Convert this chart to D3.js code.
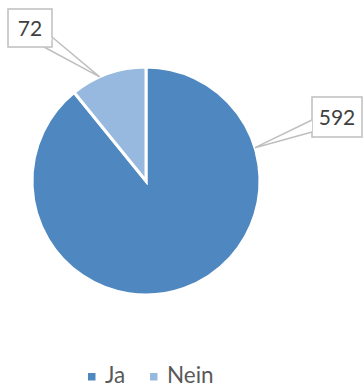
<!DOCTYPE html>
<html>
<head>
<meta charset="utf-8">
<script src="https://cdn.jsdelivr.net/npm/d3@7"></script>
<style>
  html, body { margin: 0; padding: 0; background: #fff; }
  svg { display: block; }
  text { font-family: Lato, "Open Sans", sans-serif; }
</style>
</head>
<body>
<svg id="chart" width="364" height="387"></svg>
<script>
// ---- data ----
const categories = ["Ja", "Nein"];
const values = [592, 72];
const colors = ["#4f87c1", "#97b9df"];

// ---- layout ----
const W = 364, H = 387;
const cx = 146, cy = 181, R = 114;
// callout boxes: [x, y, w, h], leader tip angle (deg, clockwise from top), pointer base points relative to box
const callouts = [
  { box: [312, 97, 50, 40], tipDeg: 73, base: [[0, 23], [0, 35]] },
  { box: [8, 9, 44, 38], tipDeg: 336, base: [[44, 28], [36, 38]] }
];

const svg = d3.select("#chart");

const pie = d3.pie().sort(null).value(d => d)(values);
const arc = d3.arc().innerRadius(0).outerRadius(R);

const g = svg.append("g").attr("transform", `translate(${cx},${cy})`);
g.selectAll("path.slice")
  .data(pie)
  .join("path")
  .attr("class", "slice")
  .attr("d", arc)
  .attr("fill", (d, i) => colors[i])
  .attr("stroke", "#fff")
  .attr("stroke-width", 3)
  .attr("stroke-linejoin", "miter");

// ---- callouts ----
callouts.forEach((c, i) => {
  const [bx, by, bw, bh] = c.box;
  const a = c.tipDeg * Math.PI / 180;
  const tip = [cx + R * Math.sin(a), cy - R * Math.cos(a)];
  const p1 = [bx + c.base[0][0], by + c.base[0][1]];
  const p2 = [bx + c.base[1][0], by + c.base[1][1]];
  svg.append("rect")
    .attr("x", bx).attr("y", by).attr("width", bw).attr("height", bh)
    .attr("fill", "#fff")
    .attr("stroke", "#bfbfbf")
    .attr("stroke-width", 1.5);
  svg.append("path")
    .attr("d", `M${p1[0]},${p1[1]} L${tip[0]},${tip[1]} L${p2[0]},${p2[1]}`)
    .attr("fill", "none")
    .attr("stroke", "#bfbfbf")
    .attr("stroke-width", 1.5);
  // open the box border where the wedge joins
  svg.append("path")
    .attr("d", `M${p1[0]},${p1[1]} L${(p1[0]+p2[0])/2 + (tip[0]-(p1[0]+p2[0])/2)*0.05},${(p1[1]+p2[1])/2 + (tip[1]-(p1[1]+p2[1])/2)*0.05} L${p2[0]},${p2[1]}`)
    .attr("fill", "#fff")
    .attr("stroke", "none");
  svg.append("text")
    .attr("x", bx + bw / 2)
    .attr("y", by + bh / 2)
    .attr("dy", "0.36em")
    .attr("text-anchor", "middle")
    .attr("font-size", 21)
    .attr("fill", "#404040")
    .text(values[i]);
});

// ---- legend ----
const legend = svg.append("g");
const legendX = [88, 150];
const legendTextX = [105, 167];
categories.forEach((cat, i) => {
  legend.append("rect")
    .attr("x", legendX[i]).attr("y", 373).attr("width", 7.5).attr("height", 7.5)
    .attr("fill", colors[i]);
  legend.append("text")
    .attr("x", legendTextX[i]).attr("y", 383)
    .attr("font-size", 22.5)
    .attr("fill", "#595959")
    .text(cat);
});
</script>
</body>
</html>
